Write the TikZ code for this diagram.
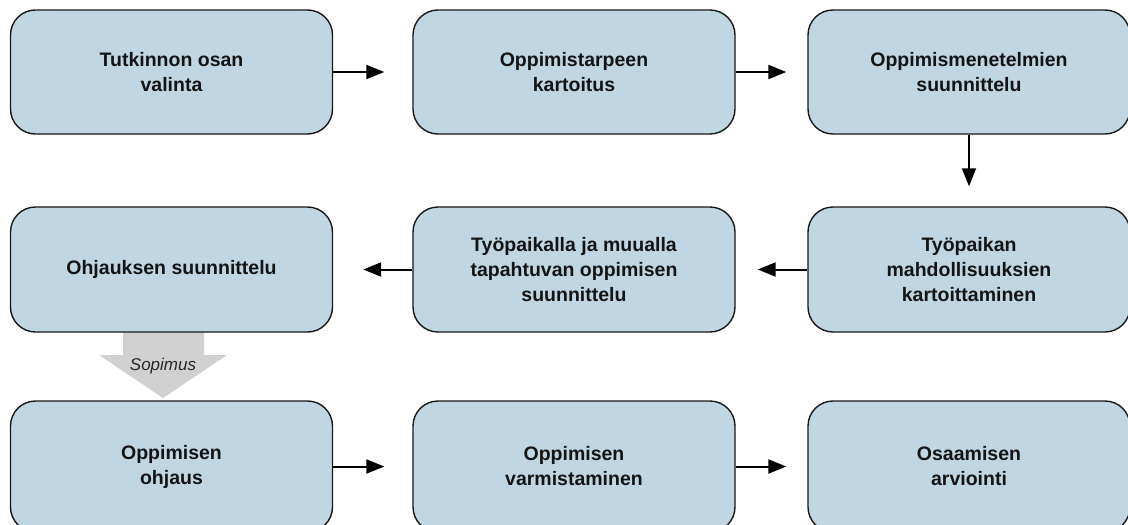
\documentclass[tikz,border=0pt]{standalone}
\usepackage{fontspec}
\setmainfont{Liberation Sans}
\usetikzlibrary{arrows.meta}
\definecolor{boxfill}{RGB}{192,215,227}
\definecolor{agray}{RGB}{208,208,208}
\begin{document}
\begin{tikzpicture}[x=1pt,y=-1pt,
  stepbox/.style={draw=black!90, line width=1.4pt, fill=boxfill, rounded corners=25pt,
    font=\bfseries\fontsize{19.5}{25}\selectfont, align=center, text=black!92,
    minimum width=322pt, inner sep=0pt},
  flow/.style={-{Triangle[length=18pt,width=14pt]}, line width=2pt, black}]
\useasboundingbox (0,0) rectangle (1128,525);
% agreement arrow
\fill[agray] (123,330) -- (204,330) -- (204,355) -- (227,355) -- (163,398) -- (99,355) -- (123,355) -- cycle;
\node[font=\itshape\fontsize{17}{20}\selectfont, text=black!85] (sop) at (163,366) {Sopimus};
% row 1
\node[stepbox, minimum height=124pt] (a1) at (171.5,72) {Tutkinnon osan\\valinta};
\node[stepbox, minimum height=124pt] (b1) at (574,72) {Oppimistarpeen\\kartoitus};
\node[stepbox, minimum height=124pt] (c1) at (969,72) {Oppimismenetelmien\\suunnittelu};
% row 2
\node[stepbox, minimum height=125pt] (a2) at (171.5,269.5) {Ohjauksen suunnittelu};
\node[stepbox, minimum height=125pt] (b2) at (574,269.5) {Työpaikalla ja muualla\\tapahtuvan oppimisen\\suunnittelu};
\node[stepbox, minimum height=125pt] (c2) at (969,269.5) {Työpaikan\\mahdollisuuksien\\kartoittaminen};
% row 3
\node[stepbox, minimum height=131pt] (a3) at (171.5,466.5) {Oppimisen\\ohjaus};
\node[stepbox, minimum height=131pt] (b3) at (574,466.5) {Oppimisen\\varmistaminen};
\node[stepbox, minimum height=131pt] (c3) at (969,466.5) {Osaamisen\\arviointi};
% connectors
\draw[flow, shorten >=28pt] (a1) -- (b1);
\draw[flow, shorten >=21pt] (b1) -- (c1);
\draw[flow, shorten >=20pt] (c1) -- (c2);
\draw[flow, shorten >=22pt] (c2) -- (b2);
\draw[flow, shorten >=30pt] (b2) -- (a2);
\draw[flow, shorten >=28pt] (a3) -- (b3);
\draw[flow, shorten >=21pt] (b3) -- (c3);
\end{tikzpicture}
\end{document}
